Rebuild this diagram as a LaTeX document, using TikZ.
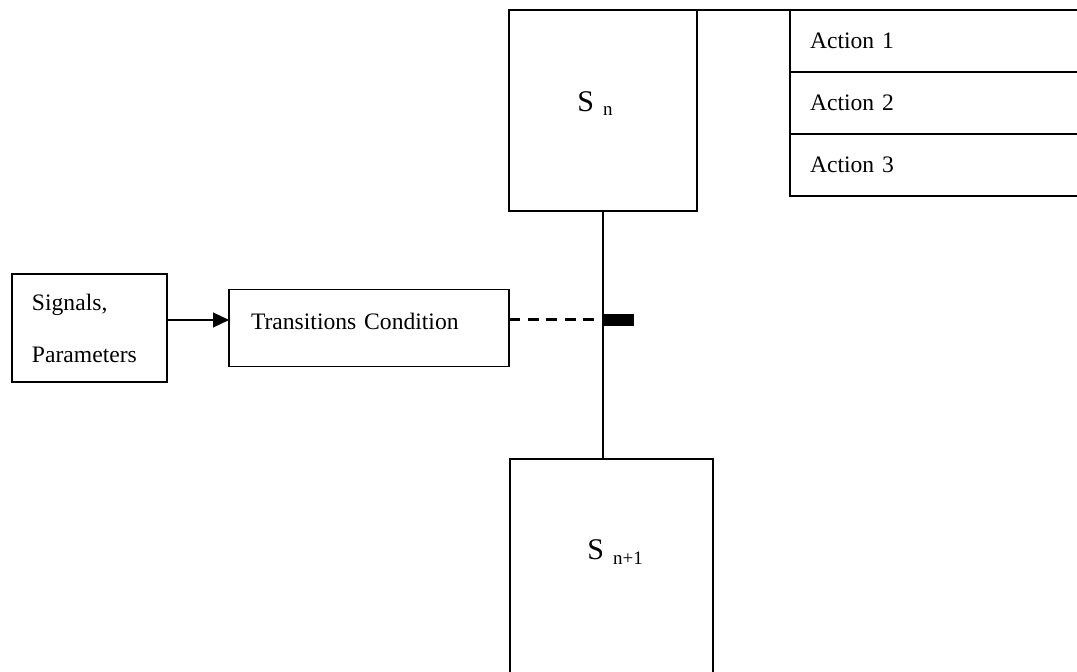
\documentclass[tikz,border=0pt]{standalone}
\usepackage{fontspec}
\setmainfont{Liberation Serif}
\usetikzlibrary{arrows.meta, positioning}
\newcommand{\diagfont}{\fontsize{11.8pt}{14.2pt}\selectfont}
\newcommand{\statefont}{\fontsize{15pt}{18pt}\selectfont}
\newcommand{\subfont}{\fontsize{9.5pt}{11pt}\selectfont}
\tikzset{
	box/.style={rectangle, draw, line width=0.55pt, inner sep=0pt, outer sep=0pt},
	line/.style={draw, line width=0.55pt}
}

\begin{document}
\begin{tikzpicture}[
	x=0.5pt, y=-0.5pt,
	node distance=31pt and 31pt, % gap between input boxes
	state/.style={box, minimum width=94pt, minimum height=100.5pt},
	action/.style={box, minimum width=150pt, minimum height=31pt, text width=130pt, inner xsep=10pt, align=left, font=\diagfont},
	input/.style={box, align=left, font=\diagfont},
	bar/.style={rectangle, fill=black, minimum width=15.5pt, minimum height=6pt, inner sep=0pt, outer sep=0pt},
	arrow/.style={line, -{Triangle[length=8pt, width=7.5pt]}},
	condline/.style={draw, line width=1.5pt, dash pattern=on 5.5pt off 3.8pt}
	]
	\clip (0,0) rectangle (1077,672);
	
	% --- Step S_n and its actions ---
	\node[state] (sn) at (603,110.5) {};
	\node[anchor=base west, inner sep=0pt] (sn_label) at (577,112) {{\statefont S}\hspace{4.5pt}\raisebox{-2pt}{\subfont n}};
	
	\node[action, anchor=north west] (act1) at (790,10) {Action 1};
	\node[action, below=0pt of act1] (act2) {Action 2};
	\node[action, below=0pt of act2] (act3) {Action 3};
	
	\draw[line] (sn.north east) -- (act1.north west);
	
	% --- Transition with its condition ---
	\node[input, minimum width=77.5pt, minimum height=54pt, text width=57.5pt, inner xsep=10pt] (signals) at (89.5,328) {Signals,\\[11.8pt]Parameters};
	\node[input, right=of signals, minimum width=140pt, minimum height=38.5pt, text width=118pt, inner xsep=11pt, text depth=6.5pt] (trans_cond) {Transitions Condition};
	
	\node[bar, anchor=west] (trans_bar) at (sn.south |- 0,320) {};
	
	% --- Step S_n+1 (runs off the bottom edge) ---
	\node[box, anchor=north west, minimum width=101.5pt, minimum height=120pt] (snext) at (510,459) {};
	\node[anchor=base west, inner sep=0pt] (snext_label) at (587,560) {{\statefont S}\hspace{4.5pt}\raisebox{-2.5pt}{\subfont n+1}};
	
	% Connectors
	\draw[line] (sn.south) -- (sn.south |- snext.north);
	\draw[arrow] ([yshift=4pt]signals.east) -- ([yshift=4pt]trans_cond.west);
	\draw[condline] ([yshift=4pt]trans_cond.east) -- (trans_bar.west);
	
\end{tikzpicture}
\end{document}
